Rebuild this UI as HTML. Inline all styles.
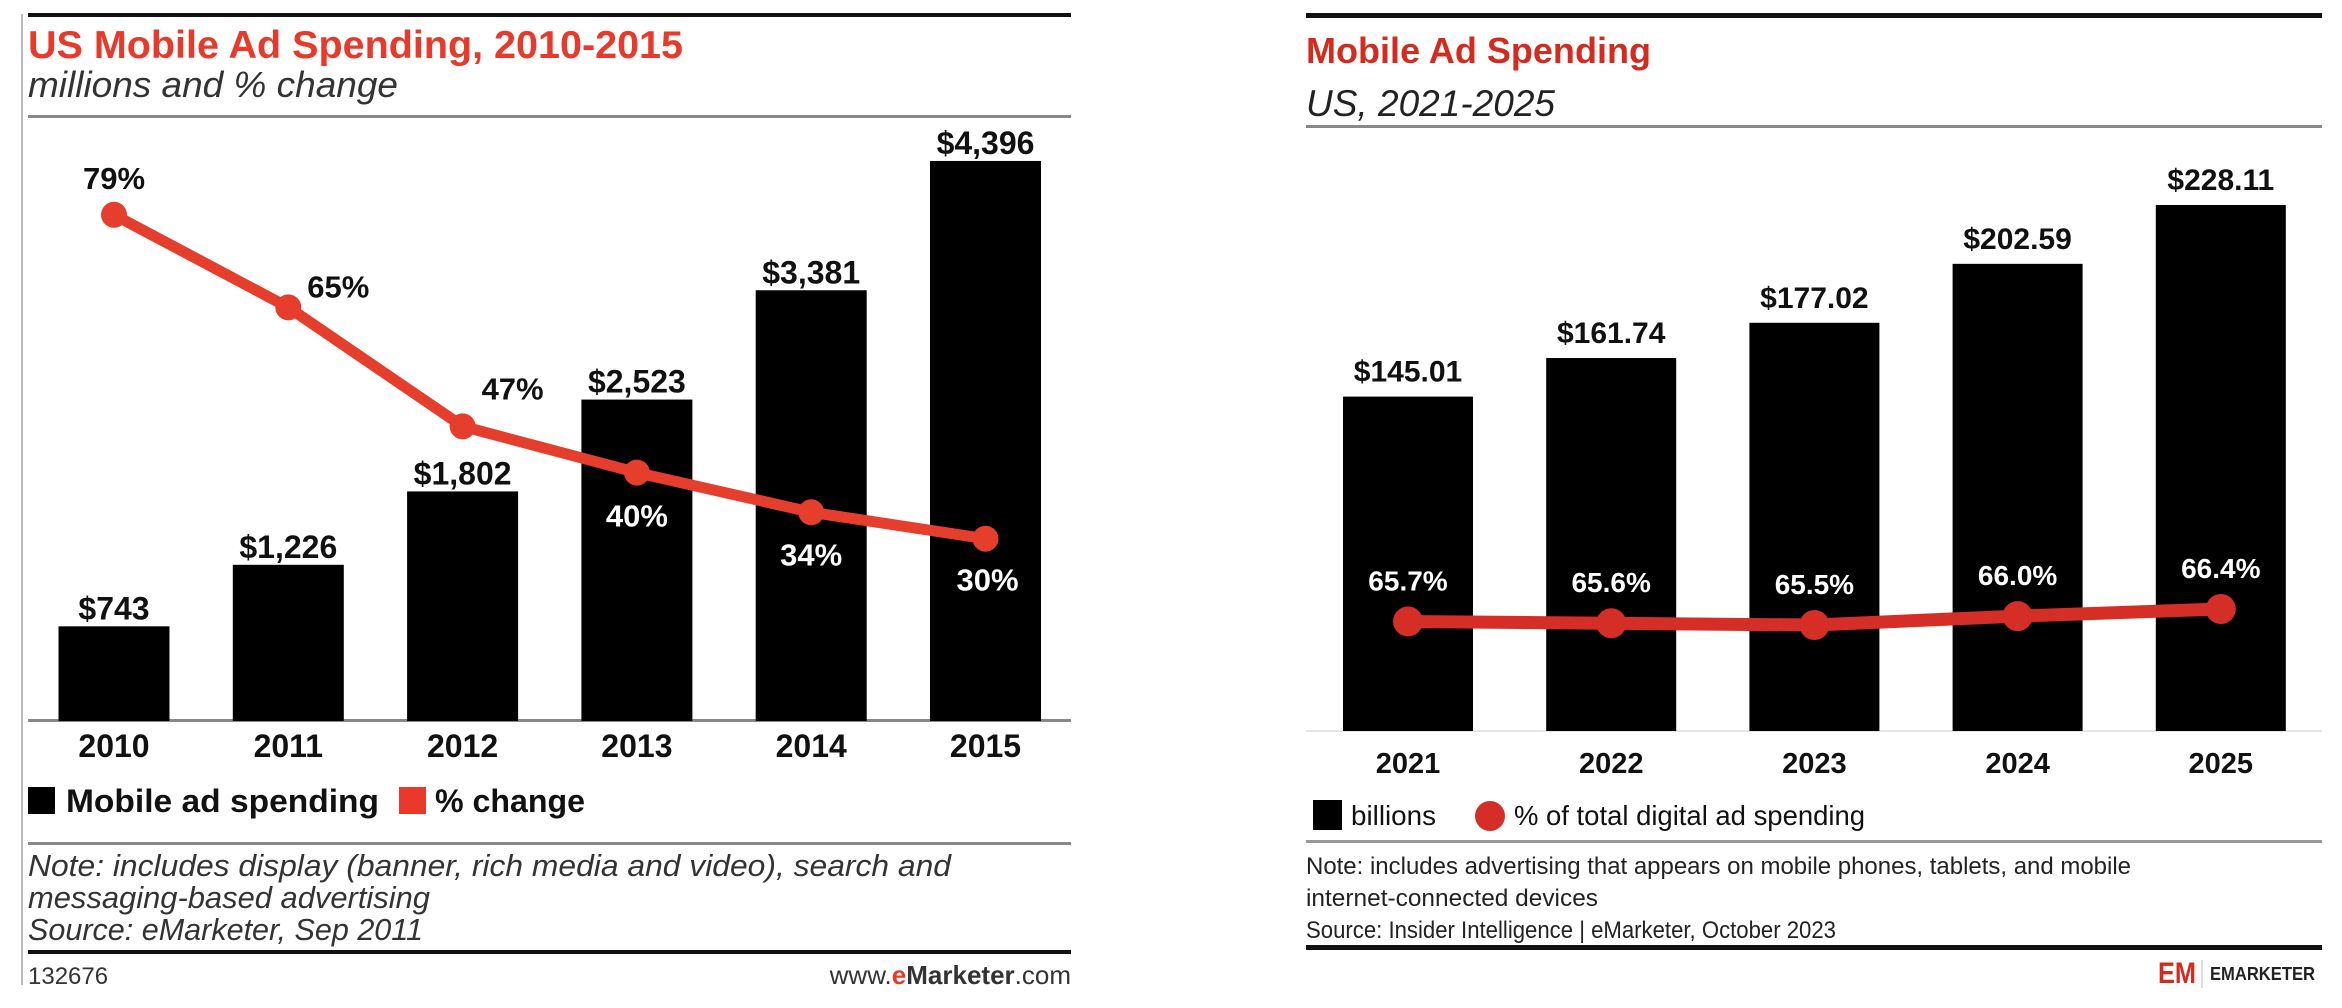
<!DOCTYPE html>
<html><head><meta charset="utf-8"><style>
html,body{margin:0;padding:0;background:#fff;width:2342px;height:1008px;overflow:hidden}
svg{display:block;font-family:"Liberation Sans",Arial,sans-serif}
</style></head><body>
<svg id="s" width="2342" height="1008" viewBox="0 0 2342 1008">
<g id="left">
  <line x1="22" y1="14" x2="22" y2="985" stroke="#bbb" stroke-width="2"/>
  <rect x="28" y="13" width="1043" height="4" fill="#111"/>
  <text x="28" y="58" font-size="39" font-weight="bold" fill="#e8392a" textLength="655" lengthAdjust="spacingAndGlyphs">US Mobile Ad Spending, 2010-2015</text>
  <text x="28" y="97" font-size="36" font-style="italic" fill="#333" textLength="370" lengthAdjust="spacingAndGlyphs">millions and % change</text>
  <rect x="28" y="115" width="1043" height="3" fill="#888"/>
  <rect x="28" y="719" width="1043" height="3" fill="#888"/>
  <g id="lbars"></g><g id="lline"></g>
  <rect x="28" y="787" width="27" height="27" fill="#000"/>
  <text x="66" y="812" font-size="32" font-weight="bold" fill="#111" textLength="313" lengthAdjust="spacingAndGlyphs">Mobile ad spending</text>
  <rect x="399" y="787" width="27" height="27" fill="#e8392a"/>
  <text x="435" y="812" font-size="32" font-weight="bold" fill="#111" textLength="150" lengthAdjust="spacingAndGlyphs">% change</text>
  <rect x="28" y="842" width="1043" height="3" fill="#888"/>
  <g font-size="31" font-style="italic" fill="#333">
    <text x="28" y="876" textLength="923" lengthAdjust="spacingAndGlyphs">Note: includes display (banner, rich media and video), search and</text>
    <text x="28" y="908" textLength="402" lengthAdjust="spacingAndGlyphs">messaging-based advertising</text>
    <text x="28" y="940" textLength="395" lengthAdjust="spacingAndGlyphs">Source: eMarketer, Sep 2011</text>
  </g>
  <rect x="28" y="950" width="1043" height="4" fill="#111"/>
  <text x="28" y="984" font-size="24" fill="#333">132676</text>
  <text x="1071" y="984" font-size="26" fill="#333" text-anchor="end">www.<tspan fill="#e8392a" font-weight="bold">e</tspan><tspan font-weight="bold">Marketer</tspan>.com</text>
</g>
<g id="right">
  <rect x="1306" y="13" width="1016" height="5" fill="#111"/>
  <text x="1306" y="63" font-size="36" font-weight="bold" fill="#d52b1e" textLength="345" lengthAdjust="spacingAndGlyphs">Mobile Ad Spending</text>
  <text x="1306" y="116" font-size="37" font-style="italic" fill="#222" textLength="249" lengthAdjust="spacingAndGlyphs">US, 2021-2025</text>
  <rect x="1306" y="125" width="1016" height="3" fill="#888"/>
  <rect x="1306" y="730" width="1016" height="2" fill="#e4e4ee"/>
  <g id="rbars"></g><g id="rline"></g>
  <rect x="1313" y="800" width="29" height="30" fill="#000"/>
  <text x="1351" y="825" font-size="28" fill="#111" textLength="85" lengthAdjust="spacingAndGlyphs">billions</text>
  <circle cx="1490" cy="816" r="15" fill="#d42e26"/>
  <text x="1514" y="825" font-size="28" fill="#111" textLength="351" lengthAdjust="spacingAndGlyphs">% of total digital ad spending</text>
  <rect x="1306" y="840" width="1016" height="3" fill="#999"/>
  <g font-size="24" fill="#222">
    <text x="1306" y="874" textLength="825" lengthAdjust="spacingAndGlyphs">Note: includes advertising that appears on mobile phones, tablets, and mobile</text>
    <text x="1306" y="906" textLength="292" lengthAdjust="spacingAndGlyphs">internet-connected devices</text>
    <text x="1306" y="938" textLength="530" lengthAdjust="spacingAndGlyphs">Source: Insider Intelligence | eMarketer, October 2023</text>
  </g>
  <rect x="1306" y="945" width="1016" height="5" fill="#111"/>
  <g>
    <text x="2158" y="983" font-size="30" font-weight="bold" fill="#d52b1e" textLength="38" lengthAdjust="spacingAndGlyphs">EM</text>
    <line x1="2202" y1="960" x2="2202" y2="988" stroke="#bbb" stroke-width="1"/>
    <text x="2210" y="980" font-size="18" font-weight="bold" fill="#222" textLength="105" lengthAdjust="spacingAndGlyphs">EMARKETER</text>
  </g>
</g>
</svg>
<script>
const leftYears=["2010","2011","2012","2013","2014","2015"];
const leftSpend=[743,1226,1802,2523,3381,4396];
const leftSpendLabels=["$743","$1,226","$1,802","$2,523","$3,381","$4,396"];
const leftChange=[79,65,47,40,34,30];
const rightYears=["2021","2022","2023","2024","2025"];
const rightSpend=[145.01,161.74,177.02,202.59,228.11];
const rightShare=[65.7,65.6,65.5,66.0,66.4];
const NS="http://www.w3.org/2000/svg";
function mk(tag,attrs,parent,txt){const e=document.createElementNS(NS,tag);for(const k in attrs)e.setAttribute(k,attrs[k]);if(txt!==undefined)e.textContent=txt;parent.appendChild(e);return e;}
const lx=i=>114+i*174.3, lbw=111;
const ly=v=>721-v*0.1274;
const lp=v=>737-v*6.61;
const lb=document.getElementById('lbars');
leftSpend.forEach((v,i)=>{
  const r=mk('rect',{x:lx(i)-lbw/2,y:ly(v),width:lbw,height:721-ly(v),fill:'#000'},lb);
  
  
  const t=mk('text',{x:lx(i),y:ly(v)-7,'font-size':32,'font-weight':'bold','text-anchor':'middle',fill:'#111'},lb,leftSpendLabels[i]);
  
  
  const xl=mk('text',{x:lx(i),y:757,'font-size':32,'font-weight':'bold','text-anchor':'middle',fill:'#111'},lb,leftYears[i]);
  
  
});
const ll=document.getElementById('lline');
const lpath=mk('polyline',{points:leftChange.map((v,i)=>lx(i)+','+lp(v)).join(' '),fill:'none',stroke:'#e63e2c','stroke-width':11,'stroke-linejoin':'round'},ll);


const loff=[[0,-37,'#111'],[50,-21,'#111'],[50,-38,'#111'],[0,43,'#fff'],[0,42,'#fff'],[2,41,'#fff']];
leftChange.forEach((v,i)=>{
  const c=mk('circle',{cx:lx(i),cy:lp(v),r:13,fill:'#e63e2c'},ll);
  
  
  const t=mk('text',{x:lx(i)+loff[i][0],y:lp(v)+loff[i][1]+11,'font-size':31,'font-weight':'bold','text-anchor':'middle',fill:loff[i][2]},ll,v+'%');
  
  
});
const rx=i=>1408+i*203.2, rbw=130;
const ry=v=>731-v*2.306;
const rp=v=>625-(v-65.5)*17.8;
const rb=document.getElementById('rbars');
rightSpend.forEach((v,i)=>{
  const r=mk('rect',{x:rx(i)-rbw/2,y:ry(v),width:rbw,height:731-ry(v),fill:'#000'},rb);
  
  
  const t=mk('text',{x:rx(i),y:ry(v)-15,'font-size':30,'font-weight':'bold','text-anchor':'middle',fill:'#111'},rb,'$'+v.toFixed(2));
  
  
  const xl=mk('text',{x:rx(i),y:773,'font-size':29,'font-weight':'bold','text-anchor':'middle',fill:'#111'},rb,rightYears[i]);
  
  
});
const rl=document.getElementById('rline');
const rpath=mk('polyline',{points:rightShare.map((v,i)=>rx(i)+','+rp(v)).join(' '),fill:'none',stroke:'#d42e26','stroke-width':13,'stroke-linejoin':'round'},rl);


rightShare.forEach((v,i)=>{
  const c=mk('circle',{cx:rx(i),cy:rp(v),r:15,fill:'#d42e26'},rl);
  
  
  const t=mk('text',{x:rx(i),y:rp(v)-31,'font-size':28,'font-weight':'bold','text-anchor':'middle',fill:'#fff'},rl,v.toFixed(1)+'%');
  
  
});
</script>
</body></html>
